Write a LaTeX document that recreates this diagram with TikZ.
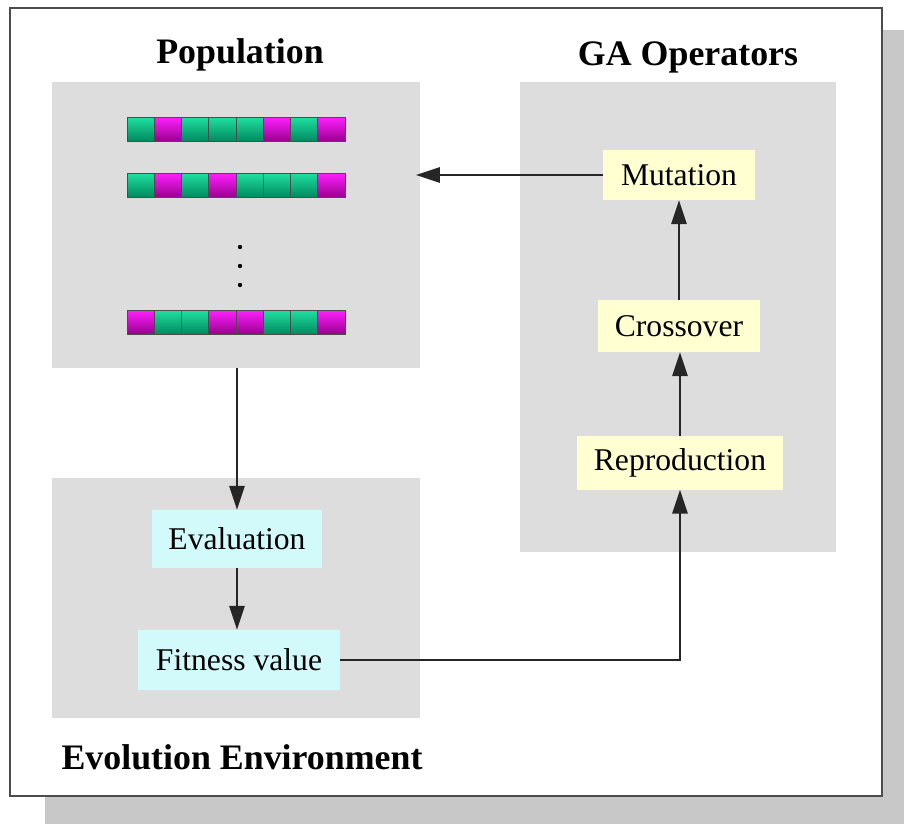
\documentclass[tikz,border=0pt]{standalone}
\usepackage{fontspec}
\setmainfont{Liberation Serif}
\usetikzlibrary{arrows.meta}
\definecolor{shadowgray}{HTML}{C8C8C8}
\definecolor{panelgray}{HTML}{DDDDDD}
\definecolor{opyellow}{HTML}{FFFFD2}
\definecolor{evcyan}{HTML}{D2FAFA}
\definecolor{greenhi}{HTML}{20E0A0}
\definecolor{greenlo}{HTML}{008A60}
\definecolor{magentahi}{HTML}{FF20FF}
\definecolor{magentalo}{HTML}{9A0090}
\tikzset{
  panel/.style={fill=panelgray, inner sep=0pt},
  title/.style={font=\bfseries\fontsize{25.5}{28}\selectfont},
  opbox/.style={fill=opyellow, inner sep=0pt, font=\fontsize{22.5}{25}\selectfont},
  evbox/.style={fill=evcyan, inner sep=0pt, font=\fontsize{22.5}{25}\selectfont},
  flow/.style={draw=black!85, line width=1pt, -{Triangle[length=17pt,width=11pt]}},
  gene/.style={draw=black!70, line width=0.7pt, inner sep=0pt,
    minimum width=0.681cm, minimum height=0.6cm},
  geneG/.style={top color=greenhi, bottom color=greenlo},
  geneM/.style={top color=magentahi, bottom color=magentalo},
}
\begin{document}
\begin{tikzpicture}[x=0.025cm, y=-0.025cm]
\useasboundingbox (0,0) rectangle (904,824);
% Frame with drop shadow
\fill[shadowgray] (45,30) rectangle (904,824);
\draw[fill=white, draw=black!70, line width=1pt] (10,8) rectangle (882,796);
% Panels
\node[panel, minimum width=9.2cm, minimum height=7.15cm] (pop) at (236,225) {};
\node[panel, minimum width=7.9cm, minimum height=11.75cm] (ops) at (678,317) {};
\node[panel, minimum width=9.2cm, minimum height=6cm] (env) at (236,598) {};
% Titles
\node[title] (poptitle) at (240,55) {Population};
\node[title] (opstitle) at (688,57) {GA Operators};
\node[title] (envtitle) at (242,757) {Evolution Environment};
% Chromosomes
\foreach \row/\yy/\genes in {1/129/{G,M,G,G,G,M,G,M}, 2/185/{G,M,G,M,G,G,G,M}, 3/322/{M,G,G,M,M,G,G,M}} {
  \foreach \g [count=\i] in \genes {
    \node[gene, gene\g] (c\row-\i) at ({127+27.25*(\i-0.5)},\yy) {};
  }
}
% Vertical dots between rows
\foreach \yy in {247,266,285}
  \fill (240,\yy) circle (2.2);
% Operator boxes
\node[opbox, minimum width=3.8cm, minimum height=1.25cm] (mut) at (679,175) {Mutation};
\node[opbox, minimum width=4.05cm, minimum height=1.3cm] (cross) at (679,326) {Crossover};
\node[opbox, minimum width=5.125cm, minimum height=1.325cm] (repro) at (680,463) {Reproduction};
% Evaluation boxes
\node[evbox, minimum width=4.25cm, minimum height=1.45cm] (eval) at (237,539) {Evaluation};
\node[evbox, minimum width=5.05cm, minimum height=1.5cm] (fit) at (239,660) {Fitness value};
% Connectors
\coordinate (popin) at (416,175);
\draw[flow] (mut.west) -- (popin);
\draw[flow] (pop.south -| eval.north) -- (eval.north);
\draw[flow] (eval.south) -- (eval.south |- fit.north);
\draw[flow] (fit.east) -- (fit.east -| repro.south) -- (repro.south);
\draw[flow] (repro.north) -- (repro.north |- cross.south);
\draw[flow] (cross.north) -- (mut.south);
\end{tikzpicture}
\end{document}
